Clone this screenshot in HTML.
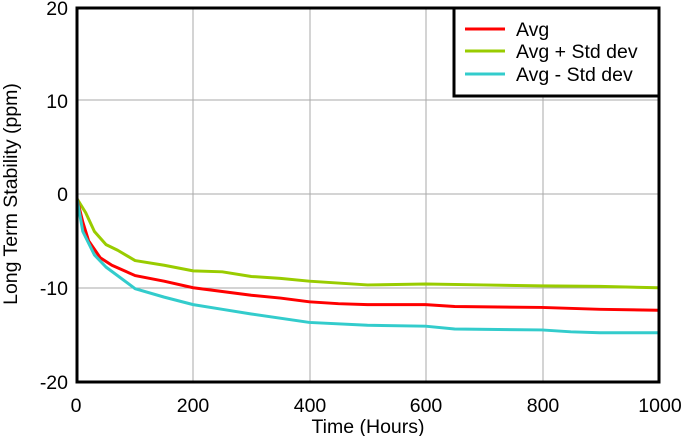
<!DOCTYPE html>
<html><head><style>
body{margin:0;background:#fff;}
svg text{font-family:"Liberation Sans",Arial,sans-serif;}
</style></head><body>
<svg width="683" height="436" viewBox="0 0 683 436" xmlns="http://www.w3.org/2000/svg">
<g stroke="#aaa" stroke-width="1">
<line x1="193" y1="7" x2="193" y2="382"/><line x1="310" y1="7" x2="310" y2="382"/>
<line x1="426" y1="7" x2="426" y2="382"/><line x1="543" y1="7" x2="543" y2="382"/>
<line x1="77" y1="100" x2="659" y2="100"/><line x1="77" y1="194" x2="659" y2="194"/>
<line x1="77" y1="288" x2="659" y2="288"/>
</g>
<g transform="translate(77,194) scale(0.581,-9.375)" fill="none" stroke-width="3" stroke-linejoin="round">
<polyline vector-effect="non-scaling-stroke" stroke="#99cc00" points="0,-0.5 15,-2 30,-4 50,-5.4 70,-6 100,-7.1 150,-7.6 200,-8.2 250,-8.3 300,-8.8 350,-9 400,-9.3 450,-9.5 500,-9.7 600,-9.6 700,-9.7 800,-9.8 900,-9.85 1000,-10"/>
<polyline vector-effect="non-scaling-stroke" stroke="#ff0000" points="0,-0.5 10,-3 20,-5 40,-6.8 60,-7.6 100,-8.7 150,-9.3 200,-10 250,-10.4 300,-10.8 350,-11.1 400,-11.5 450,-11.7 500,-11.8 600,-11.8 650,-12 800,-12.1 900,-12.3 1000,-12.4"/>
<polyline vector-effect="non-scaling-stroke" stroke="#33cccc" points="0,-0.5 10,-4 30,-6.5 50,-7.8 100,-10.1 150,-11 200,-11.8 250,-12.3 300,-12.8 400,-13.7 500,-14 600,-14.1 650,-14.4 800,-14.5 850,-14.7 900,-14.8 1000,-14.8"/>
</g>
<rect x="77" y="8" width="582" height="374" fill="none" stroke="#000" stroke-width="3"/>
<rect x="454" y="8" width="205" height="88" fill="#fff" stroke="#000" stroke-width="3"/>
<g stroke-width="3">
<line x1="465" y1="29" x2="505" y2="29" stroke="#ff0000"/>
<line x1="465" y1="51" x2="505" y2="51" stroke="#99cc00"/>
<line x1="465" y1="74" x2="505" y2="74" stroke="#33cccc"/>
</g>
<g font-size="19.5" fill="#000">
<text x="516" y="36">Avg</text>
<text x="516" y="58">Avg + Std dev</text>
<text x="516" y="81">Avg - Std dev</text>
</g>
<g font-size="19.5" fill="#000" text-anchor="end">
<text x="68" y="15">20</text><text x="68" y="108">10</text><text x="68" y="201">0</text>
<text x="68" y="295">-10</text><text x="68" y="389">-20</text>
</g>
<g font-size="19.5" fill="#000" text-anchor="middle">
<text x="76" y="412">0</text><text x="193" y="412">200</text><text x="310" y="412">400</text>
<text x="426" y="412">600</text><text x="543" y="412">800</text><text x="660" y="412">1000</text>
<text x="368" y="433">Time (Hours)</text>
</g>
<text transform="translate(17,194) rotate(-90)" font-size="19.5" text-anchor="middle">Long Term Stability (ppm)</text>
</svg>
</body></html>
